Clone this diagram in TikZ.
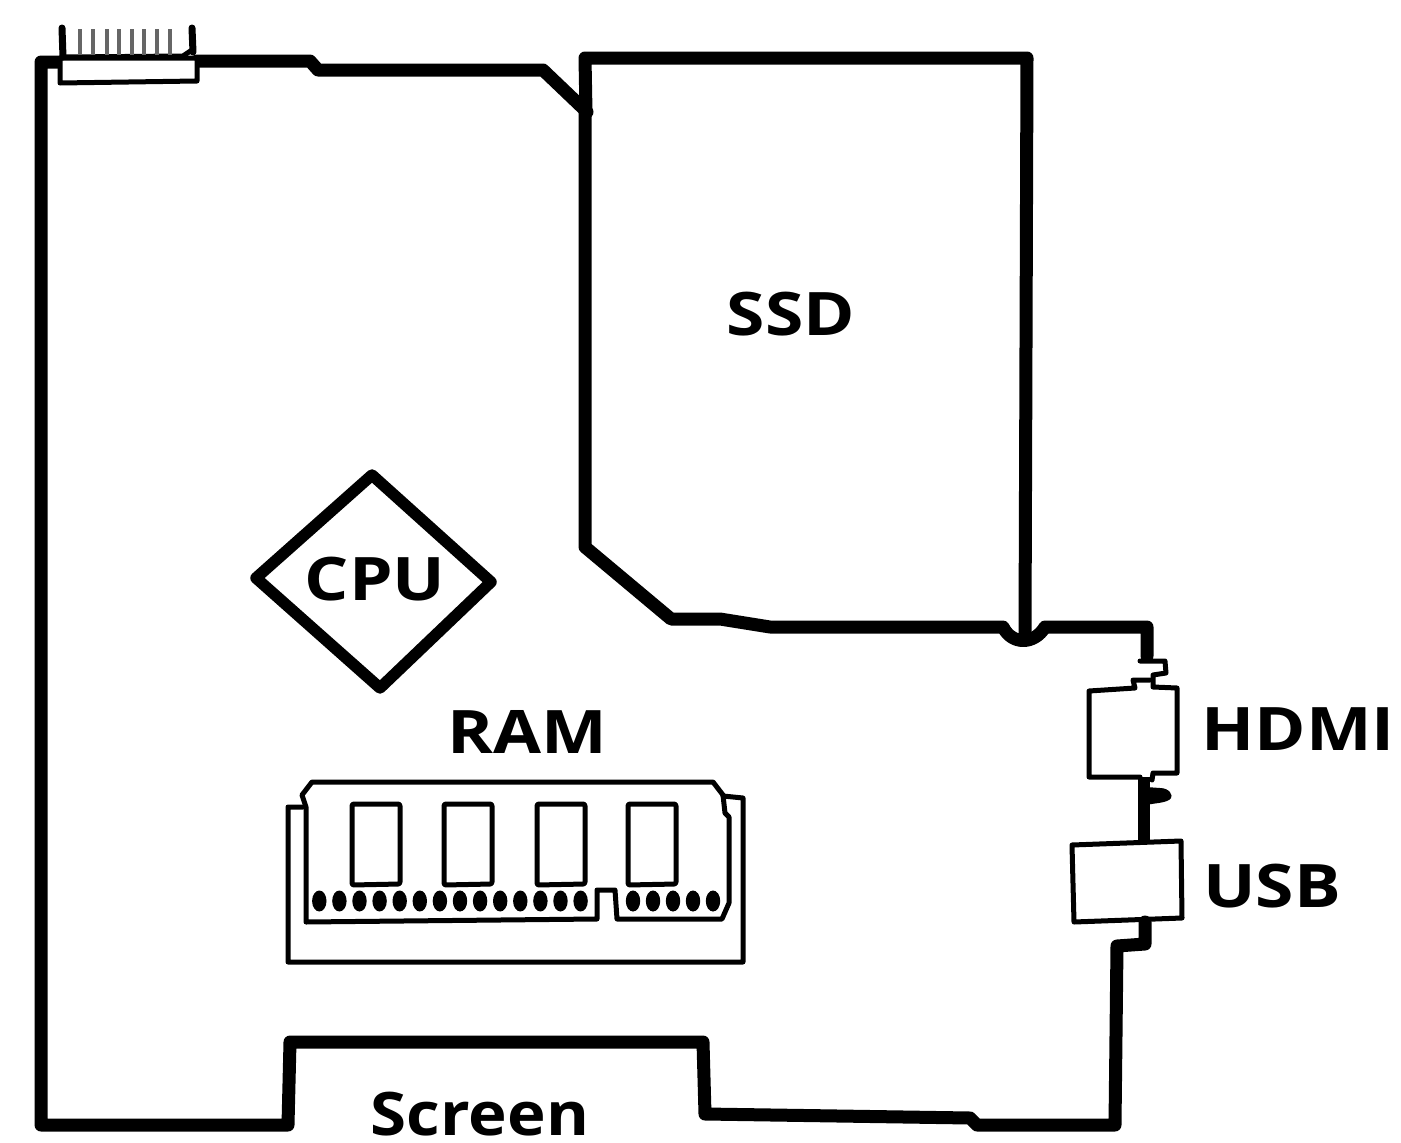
\documentclass[tikz,border=0pt]{standalone}
\usepackage{fontspec}
\setmainfont{Open Sans}
\newfontfamily\lblfont[FakeStretch=1.16]{Open Sans}
\newfontfamily\scrfont[FakeStretch=1.09]{Open Sans}
\tikzset{
  thick line/.style={draw=black,line width=13pt,line join=round,line cap=round},
  mid line/.style={draw=black,line width=7pt,line join=round,line cap=round},
  thin line/.style={draw=black,line width=5pt,line join=round,line cap=round},
  tine/.style={draw=black!60,line width=3.2pt},
  pin/.style={fill=black,draw=none},
  lbl/.style={font=\lblfont\fontsize{60}{60}\selectfont\bfseries,text=black,inner sep=0pt},
}
\begin{document}
\begin{tikzpicture}[x=1pt,y=-1pt]
\useasboundingbox (0,0) rectangle (1401,1143);
% board outline
\draw[thick line] (197,61) -- (310,61) -- (318,70) -- (543,70) -- (587,112);
\draw[thick line] (60,62) -- (41,62) -- (41,1125) -- (288,1125) -- (290,1042) -- (703,1042) -- (705,1114) -- (970,1118) -- (977,1125) -- (1115,1125) -- (1117,946) -- (1145,944) -- (1145,922);
% SSD
\draw[thick line] (586,112) -- (585,58) -- (1027,58) -- (1025,632);
\draw[thick line] (585,112) -- (585,547) -- (671,619) -- (720,619) -- (770,627) -- (1003,627) .. controls (1012,645) and (1034,645) .. (1045,627) -- (1147,627) -- (1147,656);
% left connector
\draw[thin line,fill=white] (60,58) -- (197,58) -- (197,81) -- (60,83) -- cycle;
\draw[mid line] (62,28) -- (63,57);
\draw[mid line] (192,28) -- (193,52);
\draw[thin line] (66,57) -- (183,56) -- (192,50);
\foreach \x in {80,93,107,119,132,144,157,170}
  \draw[tine] (\x,29) -- (\x,55);
% HDMI
\draw[thin line] (1140,661) -- (1165,661) -- (1166,673) -- (1153,675) -- (1153,687) -- (1177,688) -- (1177,773) -- (1153,773) -- (1152,780);
\draw[thin line] (1150,680) -- (1133,680) -- (1135,688) -- (1089,691) -- (1089,777) -- (1140,777);
\draw[line width=12pt,draw=black] (1144,777) -- (1144,841);
\fill (1146,787) -- (1160,788) .. controls (1170,788) and (1173,796) .. (1171,798) .. controls (1168,803) and (1155,803) .. (1146,805) -- cycle;
% USB
\draw[thin line] (1072,845) -- (1181,841) -- (1182,918) -- (1074,922) -- cycle;
% CPU
\draw[thick line,line width=11.5pt] (372,475) -- (491,582) -- (380,688) -- (256,578) -- cycle;
% RAM socket and module
\draw[thin line] (303,807) -- (288,807) -- (288,962) -- (743,962) -- (743,798) -- (723,796);
\draw[thin line] (306,922) -- (306,807) -- (302,795) -- (312,782) -- (713,782) -- (723,795) -- (725,813) -- (729,817) -- (729,903) -- (722,919) -- (617,919) -- (615,890) -- (597,890) -- (597,919) -- cycle;
\foreach \x in {352,444,537,628}
  \draw[thin line,rounded corners=2pt] (\x,804) -- (\x+48,804) -- (\x+48,884) -- (\x,885) -- cycle;
\foreach \x in {319.3,339.4,359.5,379.6,399.7,419.8,439.9,460,480.1,500.2,520.3,540.4,560.5,580.6,633,653,673,693,713}
  \fill[pin] (\x,901) ellipse [x radius=7.2pt,y radius=10.5pt];
% labels
\node[lbl] (ssd) at (791,314) {SSD};
\node[lbl] (cpu) at (375,579) {CPU};
\node[lbl] (ram) at (527,732) {RAM};
\node[lbl] (hdmi) at (1298,729) {HDMI};
\node[lbl] (usb) at (1272,886) {USB};
\node[lbl,font=\scrfont\fontsize{60}{60}\selectfont\bfseries] (screen) at (480,1114) {Screen};
\end{tikzpicture}
\end{document}
